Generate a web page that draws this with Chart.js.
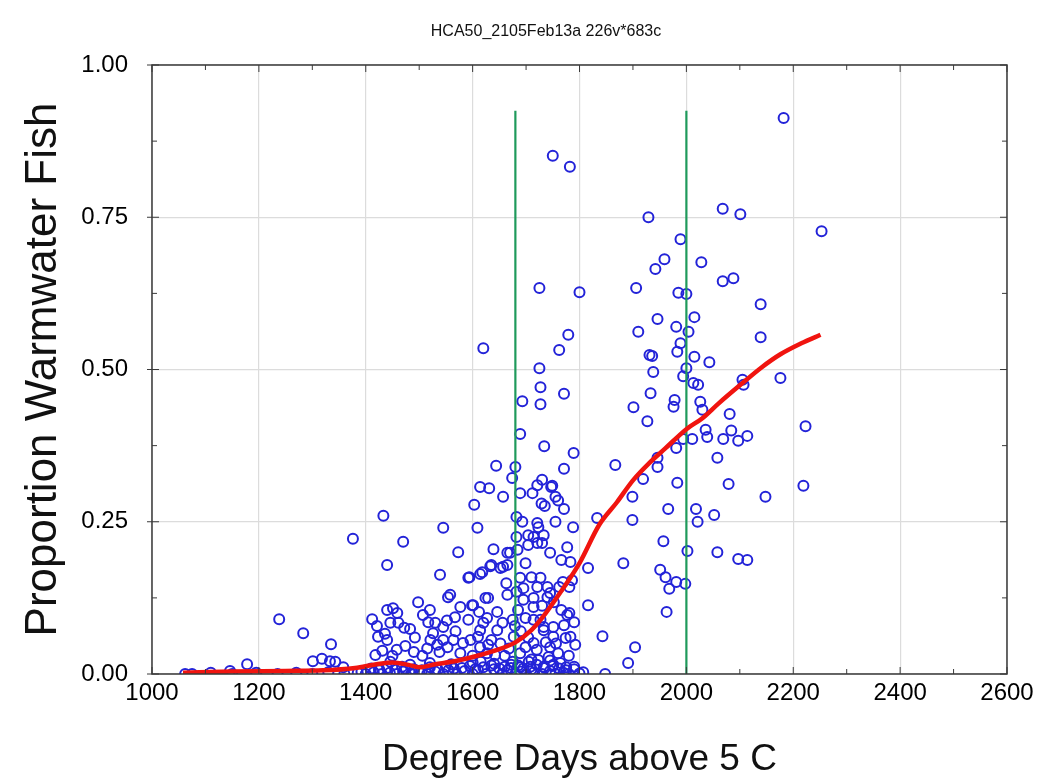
<!DOCTYPE html>
<html>
<head>
<meta charset="utf-8">
<script src="https://cdn.jsdelivr.net/npm/chart.js@4.4.1/dist/chart.umd.min.js"></script>
<style>
html,body{margin:0;padding:0;background:#fff;}
#wrap{width:1043px;height:784px;position:relative;}
</style>
</head>
<body>
<div id="wrap"><canvas id="c" width="1043" height="784"></canvas></div>
<script>
// ---------- DATA ----------
const chartTitle = 'HCA50_2105Feb13a 226v*683c';
const xAxisTitle = 'Degree Days above 5 C';
const yAxisTitle = 'Proportion Warmwater Fish';
const xTickValues = [1000, 1200, 1400, 1600, 1800, 2000, 2200, 2400, 2600];
const yTickValues = [0, 0.25, 0.5, 0.75, 1];

// observed samples (degree days, proportion of warmwater fish)
const degreeDays = [
  2182,1750,1782,2068,2101,1929,2253,1989,1959,2028,
  1942,2088,2068,1725,1906,1800,1985,2000,2139,1946,
  2015,1981,1910,2004,1779,2139,1989,1620,1762,1983,
  1931,1936,2015,2043,1725,2000,1938,1994,2176,2013,
  2105,2022,2107,1727,1933,1771,1978,1693,1727,1901,
  1976,2026,2030,2081,1927,2223,2036,2084,2069,2097,
  2114,2011,1994,2039,1689,1981,1734,1789,1946,2058,
  1946,1867,1644,1771,1680,1674,1919,1730,1983,2079,
  2219,1747,1614,1631,1712,1689,1899,2148,1657,1760,
  1603,1735,1771,1966,2018,1721,1749,1729,1755,1682,
  1433,1833,1899,2052,2021,1693,1755,1721,1788,1609,
  1545,1682,1704,1723,1714,1733,1376,1957,1470,1777,
  1704,1721,1639,1670,1745,2002,2058,1684,1665,1573,
  1766,1783,2097,2114,1699,1882,1440,1635,1816,1730,
  1951,1657,1618,1539,1594,1961,1689,1727,1592,1981,
  1998,1721,1968,1745,1769,1695,1663,1682,1554,1624,
  1558,1498,1816,1843,1963,1601,1577,1440,1451,1459,
  1695,1714,1766,1781,1727,1699,1675,1771,1733,1751,
  1774,1677,1714,1699,1745,1760,1742,1723,1705,1764,
  1238,1283,1335,1178,1301,1318,1333,1343,1358,1146,
  1507,1517,1446,1421,1461,1483,1423,1526,1545,1474,
  1431,1506,1534,1412,1472,1436,1440,1458,1521,1564,
  1545,1552,1538,1553,1577,1596,1614,1620,1635,1646,
  1614,1627,1642,1633,1652,1665,1614,1710,1740,1762,
  1781,1786,1599,1629,1665,1714,1730,1740,1752,1777,
  1520,1530,1567,1592,1612,1627,1646,1656,1685,1679,
  1690,1714,1733,1751,1790,1783,1756,1492,1450,1515,
  1568,1582,1610,1629,1652,1600,1615,1660,1668,1672,
  1689,1704,1720,1737,1780,1792,1689,1710,1733,1751,
  1775,1790,1807,1483,1418,1446,1468,1490,1425,1891,
  1904,1062,1075,1110,1150,1195,1235,1270,1300,1330,
  1360,1385,1400,1415,1430,1445,1458,1470,1485,1500,
  1515,1530,1545,1555,1570,1585,1600,1610,1625,1640,
  1655,1665,1680,1690,1700,1715,1730,1745,1755,1770,
  1780,1800,1848,1410,1425,1440,1455,1475,1490,1505,
  1520,1535,1550,1565,1580,1595,1605,1620,1635,1650,
  1660,1672,1685,1695,1708,1720,1735,1750,1762,1775,
  1790,1392,1520,1560,1600,1640,1675,1710,1745
];
const proportion = [
  0.913,0.851,0.833,0.764,0.755,0.750,0.727,0.714,0.681,0.676,
  0.665,0.650,0.645,0.634,0.634,0.627,0.626,0.624,0.607,0.583,
  0.586,0.570,0.562,0.562,0.557,0.553,0.543,0.535,0.532,0.529,
  0.524,0.522,0.521,0.512,0.502,0.502,0.496,0.489,0.486,0.478,
  0.483,0.475,0.475,0.471,0.461,0.460,0.450,0.448,0.443,0.438,
  0.439,0.447,0.434,0.427,0.415,0.407,0.401,0.400,0.386,0.383,
  0.391,0.386,0.386,0.389,0.394,0.371,0.374,0.363,0.355,0.355,
  0.340,0.343,0.342,0.337,0.340,0.322,0.320,0.319,0.314,0.312,
  0.309,0.307,0.307,0.305,0.297,0.297,0.291,0.291,0.291,0.285,
  0.278,0.276,0.271,0.271,0.271,0.310,0.309,0.280,0.291,0.258,
  0.260,0.256,0.253,0.261,0.250,0.250,0.250,0.248,0.241,0.240,
  0.240,0.225,0.228,0.241,0.225,0.228,0.222,0.218,0.217,0.208,
  0.212,0.215,0.205,0.199,0.199,0.202,0.200,0.204,0.199,0.200,
  0.187,0.184,0.189,0.187,0.182,0.182,0.179,0.179,0.174,0.215,
  0.171,0.176,0.167,0.163,0.159,0.159,0.158,0.158,0.158,0.151,
  0.148,0.143,0.140,0.133,0.151,0.141,0.149,0.135,0.126,0.125,
  0.130,0.118,0.113,0.062,0.102,0.113,0.110,0.105,0.108,0.100,
  0.122,0.110,0.105,0.100,0.089,0.092,0.089,0.080,0.072,0.061,
  0.059,0.061,0.051,0.044,0.044,0.034,0.028,0.023,0.020,0.018,
  0.090,0.067,0.049,0.016,0.021,0.025,0.021,0.020,0.011,0.005,
  0.097,0.085,0.084,0.079,0.084,0.074,0.061,0.067,0.077,0.046,
  0.038,0.030,0.048,0.090,0.076,0.066,0.056,0.040,0.056,0.056,
  0.056,0.088,0.036,0.044,0.034,0.056,0.072,0.084,0.056,0.072,
  0.044,0.034,0.031,0.177,0.174,0.179,0.164,0.159,0.143,0.143,
  0.143,0.154,0.113,0.125,0.130,0.125,0.112,0.126,0.118,0.097,
  0.105,0.084,0.093,0.089,0.102,0.092,0.102,0.084,0.105,0.079,
  0.070,0.089,0.077,0.077,0.085,0.061,0.050,0.060,0.030,0.042,
  0.070,0.051,0.061,0.048,0.050,0.030,0.020,0.030,0.042,0.015,
  0.034,0.060,0.040,0.052,0.030,0.048,0.011,0.008,0.012,0.015,
  0.006,0.012,0.003,0.015,0.031,0.020,0.012,0.036,0.008,0.018,
  0.044,0,0,0.002,0,0.002,0,0.002,0,0.003,
  0,0.002,0,0.003,0,0.002,0,0.004,0,0.003,
  0,0.004,0,0.006,0,0.005,0,0.007,0,0.008,
  0,0.006,0,0.004,0,0.003,0,0.005,0,0.002,
  0,0.001,0,0.009,0.006,0.010,0.007,0.009,0.008,0.006,
  0.011,0.007,0.012,0.009,0.010,0.013,0.008,0.011,0.014,0.009,
  0.012,0.010,0.014,0.009,0.012,0.015,0.010,0.013,0.009,0.011,
  0.008,0.004,0.018,0.016,0.019,0.017,0.020,0.024,0.022
];

// smoothed trend (red curve)
const trendX = [1058,1150,1250,1320,1380,1420,1450,1480,1500,1530,1560,1600,1640,1680,1710,1730,1765,1800,1837,1870,1900,1930,1960,2000,2030,2060,2100,2140,2176,2215,2251];
const trendY = [0.002,0.004,0.005,0.006,0.010,0.016,0.019,0.015,0.011,0.016,0.020,0.028,0.038,0.052,0.072,0.092,0.135,0.182,0.245,0.282,0.318,0.346,0.370,0.402,0.420,0.444,0.474,0.503,0.525,0.543,0.557];

// vertical reference lines (green)
const refLineX = [1680, 2000];
const refLineTop = 0.925;

// ---------- FONTS ----------
const FAM = "'Liberation Sans', Arial, sans-serif";

// ---------- BUILD ----------
const scatterPts = degreeDays.map((x, i) => ({x: x, y: proportion[i]}));
const trendPts = trendX.map((x, i) => ({x: x, y: trendY[i]}));
const refSets = refLineX.map(x => ({
  type: 'line',
  data: [{x: x, y: 0}, {x: x, y: refLineTop}],
  borderColor: '#1f9a5b',
  borderWidth: 2.2,
  pointRadius: 0,
  showLine: true,
  fill: false,
  order: 1
}));

const framePlugin = {
  id: 'frame',
  afterDraw(chart) {
    const {ctx, chartArea: a, scales} = chart;
    ctx.save();
    ctx.strokeStyle = '#3a3a3a';
    ctx.lineWidth = 1.5;
    ctx.strokeRect(a.left, a.top, a.right - a.left, a.bottom - a.top);
    ctx.lineWidth = 1;
    for (let v = 1100; v < 2600; v += 200) {
      const px = scales.x.getPixelForValue(v);
      ctx.beginPath();
      ctx.moveTo(px, a.bottom); ctx.lineTo(px, a.bottom - 5);
      ctx.moveTo(px, a.top); ctx.lineTo(px, a.top + 5);
      ctx.stroke();
    }
    for (let v = 1000; v <= 2600; v += 200) {
      const px = scales.x.getPixelForValue(v);
      ctx.beginPath();
      ctx.moveTo(px, a.bottom); ctx.lineTo(px, a.bottom - 7);
      ctx.moveTo(px, a.top); ctx.lineTo(px, a.top + 7);
      ctx.stroke();
    }
    for (let v = 0.125; v < 1; v += 0.25) {
      const py = scales.y.getPixelForValue(v);
      ctx.beginPath();
      ctx.moveTo(a.left, py); ctx.lineTo(a.left + 5, py);
      ctx.moveTo(a.right, py); ctx.lineTo(a.right - 5, py);
      ctx.stroke();
    }
    for (let v = 0; v <= 1; v += 0.25) {
      const py = scales.y.getPixelForValue(v);
      ctx.beginPath();
      ctx.moveTo(a.left - 5, py); ctx.lineTo(a.left + 7, py);
      ctx.moveTo(a.right, py); ctx.lineTo(a.right - 7, py);
      ctx.stroke();
    }
    ctx.fillStyle = '#111';
    ctx.font = '16px ' + FAM;
    ctx.textAlign = 'center';
    ctx.textBaseline = 'middle';
    ctx.fillText(chartTitle, 546, 32);
    ctx.restore();
  }
};

new Chart(document.getElementById('c'), {
  type: 'scatter',
  data: {
    datasets: [
      {
        type: 'line',
        data: trendPts,
        borderColor: '#f0140f',
        borderWidth: 4.5,
        pointRadius: 0,
        cubicInterpolationMode: 'monotone',
        showLine: true,
        fill: false,
        order: 0
      },
      ...refSets,
      {
        data: scatterPts,
        pointStyle: 'circle',
        pointRadius: 5,
        pointBorderWidth: 2,
        borderColor: '#2323d8',
        backgroundColor: 'rgba(0,0,0,0)',
        pointBackgroundColor: 'rgba(0,0,0,0)',
        pointBorderColor: '#2323d8',
        order: 2
      }
    ]
  },
  options: {
    responsive: false,
    animation: false,
    devicePixelRatio: 1,
    layout: {padding: {top: 65, right: 36, left: 0, bottom: 0}},
    plugins: {legend: {display: false}, tooltip: {enabled: false}, title: {display: false}},
    scales: {
      x: {
        type: 'linear',
        min: 1000, max: 2600,
        afterBuildTicks(s) { s.ticks = xTickValues.map(v => ({value: v})); },
        afterFit(s) { s.height = 110; },
        ticks: {color: '#000', font: {family: FAM, size: 24}, padding: 5, maxRotation: 0, autoSkip: false, callback: v => String(v)},
        grid: {color: '#dcdcdc', lineWidth: 1.2, drawTicks: false},
        border: {display: false},
        title: {display: true, text: xAxisTitle, color: '#111', font: {family: FAM, size: 37, lineHeight: 1}, padding: {top: 0, bottom: 6}}
      },
      y: {
        min: 0, max: 1,
        afterBuildTicks(s) { s.ticks = yTickValues.map(v => ({value: v})); },
        afterFit(s) { s.width = 152; },
        ticks: {color: '#000', font: {family: FAM, size: 24}, padding: 24, callback: v => Number(v).toFixed(2)},
        grid: {color: '#dcdcdc', lineWidth: 1.2, drawTicks: false},
        border: {display: false},
        title: {display: true, text: yAxisTitle, color: '#111', font: {family: FAM, size: 44, lineHeight: 1}, padding: {top: 22, bottom: 0}}
      }
    }
  },
  plugins: [framePlugin]
});
</script>
</body>
</html>
